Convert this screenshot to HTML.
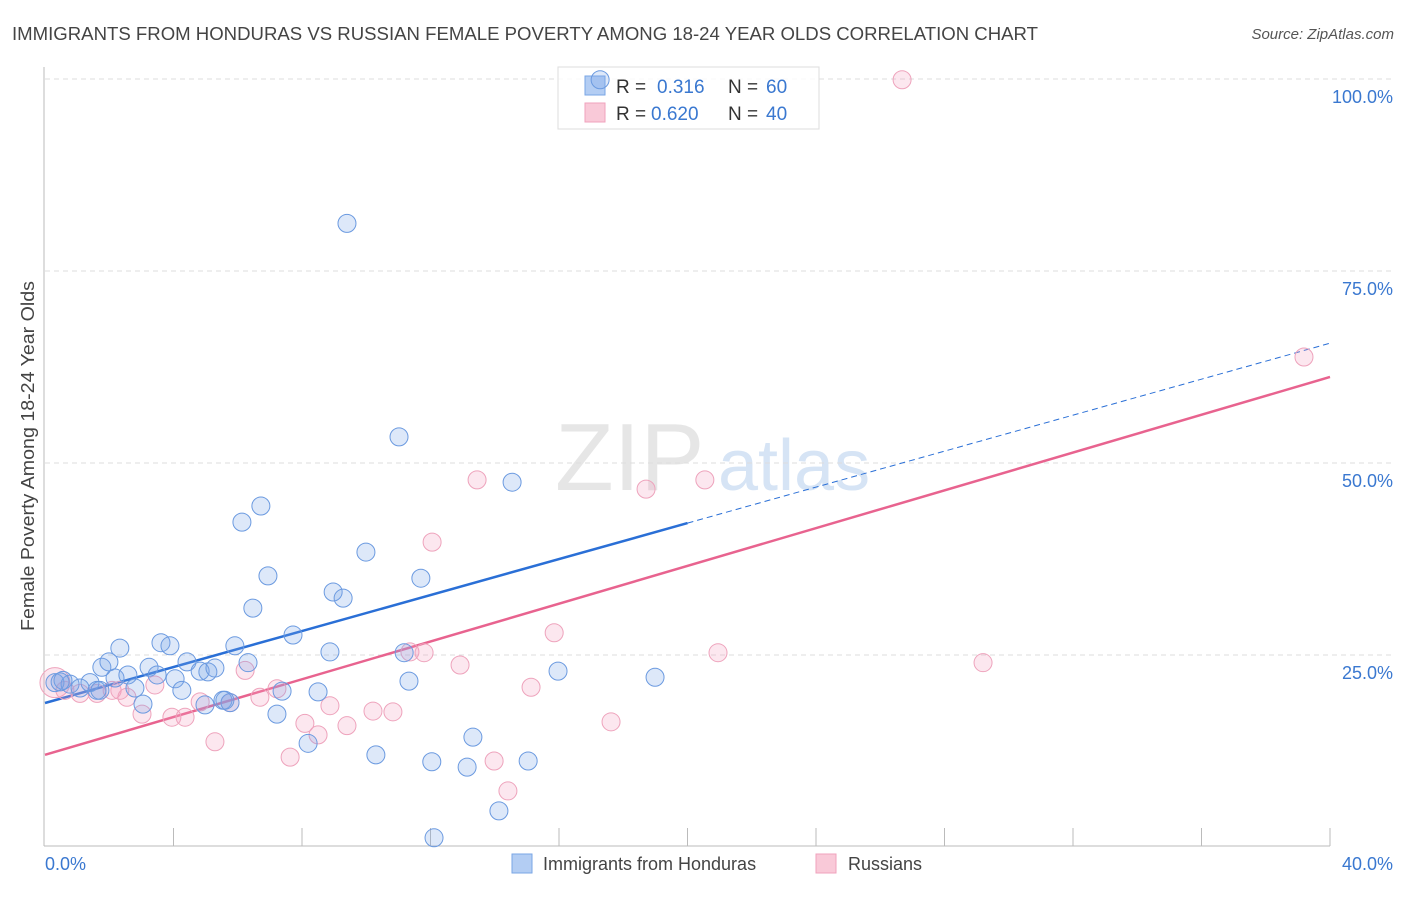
<!DOCTYPE html>
<html><head><meta charset="utf-8"><style>
body{margin:0;background:#fff;font-family:"Liberation Sans",sans-serif}
svg text{font-family:"Liberation Sans",sans-serif}
</style></head><body>
<svg id="chart" width="1406" height="892">
<text x="12" y="40" font-size="18" fill="#444" textLength="1026" lengthAdjust="spacingAndGlyphs">IMMIGRANTS FROM HONDURAS VS RUSSIAN FEMALE POVERTY AMONG 18-24 YEAR OLDS CORRELATION CHART</text>
<text x="1394" y="39" font-size="15" fill="#555" font-style="italic" text-anchor="end">Source: ZipAtlas.com</text>
<text transform="translate(34,456) rotate(-90)" font-size="18" fill="#444" text-anchor="middle" textLength="350" lengthAdjust="spacingAndGlyphs">Female Poverty Among 18-24 Year Olds</text>
<g><text x="555" y="490" font-size="96" font-family="Liberation Serif" fill="#e6e6e6">ZIP</text><text x="718" y="490" font-size="72" fill="#d6e4f5">atlas</text></g>
<g id="grid"></g><g id="axes"></g>
<g>
<rect x="558" y="67" width="261" height="62" fill="#fff" fill-opacity="0.85" stroke="#ddd"/>
<rect x="585" y="76" width="20" height="19" fill="#b3cdf3" stroke="#7aa6e6"/>
<rect x="585" y="103" width="20" height="19" fill="#f9c9d8" stroke="#f0a2bc"/>
<text x="616" y="93" font-size="19" fill="#333">R = <tspan x="657" fill="#3a78d0">0.316</tspan><tspan x="728" fill="#333">N = </tspan><tspan x="766" fill="#3a78d0">60</tspan></text>
<text x="616" y="120" font-size="19" fill="#333">R = <tspan x="651" fill="#3a78d0">0.620</tspan><tspan x="728" fill="#333">N = </tspan><tspan x="766" fill="#3a78d0">40</tspan></text>
</g>
<g id="lines"></g><g id="pts"></g>
<g>
<rect x="512" y="854" width="20" height="19" fill="#b3cdf3" stroke="#7aa6e6"/>
<text x="543" y="870" font-size="18" fill="#444">Immigrants from Honduras</text>
<rect x="816" y="854" width="20" height="19" fill="#f9c9d8" stroke="#f0a2bc"/>
<text x="848" y="870" font-size="18" fill="#444">Russians</text>
</g>
</svg>
<script>
const blueX=[0.31,0.56,0.78,1.09,1.40,1.62,1.77,1.99,2.18,2.33,2.58,2.80,3.05,3.24,3.49,3.61,3.89,4.05,4.26,4.42,4.83,4.98,5.07,5.29,5.54,5.76,5.91,6.13,6.32,6.47,6.72,6.94,7.22,7.38,7.72,8.19,8.50,8.87,8.97,9.28,9.40,9.99,10.30,11.02,11.18,11.33,11.70,12.04,12.11,13.14,13.32,14.13,14.54,15.04,15.97,17.28,18.99,0.47,1.71,5.60];
const blueY=[21.4,21.7,21.2,20.7,21.4,20.4,23.4,24.1,22.0,25.9,22.4,20.7,18.6,23.4,22.4,26.6,26.2,21.9,20.4,24.1,22.9,18.5,22.8,23.3,19.1,18.8,26.2,42.3,24.0,31.1,44.4,35.3,17.3,20.3,27.6,13.5,20.2,25.4,33.2,32.4,81.2,38.4,12.0,53.4,25.3,21.6,35.0,11.1,1.2,10.4,14.3,4.7,47.5,11.2,22.9,99.9,22.1,21.5,20.4,19.1];
const pinkX=[0.31,0.62,1.09,1.62,2.09,2.55,3.02,3.42,3.95,4.36,4.83,5.29,5.76,6.23,6.69,7.22,7.63,8.09,8.50,8.87,9.40,10.21,10.83,11.36,11.80,12.05,12.92,13.45,13.98,14.41,15.13,15.85,17.62,18.71,20.54,20.95,26.68,29.20,39.19,2.33];
const pinkY=[21.4,20.4,20.0,20.0,20.4,19.5,17.3,21.1,16.9,16.9,18.9,13.7,18.8,23.0,19.5,20.6,11.7,16.1,14.6,18.4,15.8,17.7,17.6,25.4,25.3,39.7,23.7,47.8,11.2,7.3,20.8,27.9,16.3,46.6,47.8,25.3,99.9,24.0,63.8,20.4];
const blueTrend=[18.75,65.6], pinkTrend=[12.0,61.2];
const yTicks=[25,50,75,100];
const xTickCount=10;
const NS="http://www.w3.org/2000/svg";
const X=v=>45+v/40*1285, Y=v=>847-v/100*768;
function mk(tag,attrs,parent){const e=document.createElementNS(NS,tag);for(const k in attrs)e.setAttribute(k,attrs[k]);document.getElementById(parent).appendChild(e);return e;}
yTicks.forEach(t=>{
 const l=mk('line',{x1:45,x2:1393,y1:Y(t),y2:Y(t),stroke:'#ddd','stroke-dasharray':'5,4'},'grid');
 
 
 const tx=mk('text',{x:1393,y:Y(t)+24,'font-size':18,fill:'#3a78d0','text-anchor':'end'},'grid');
 tx.textContent=t.toFixed(1)+'%';
 
 
});
let a=mk('line',{x1:44,x2:44,y1:67,y2:846,stroke:'#bbb'},'axes');


a=mk('line',{x1:44,x2:1330,y1:846,y2:846,stroke:'#bbb'},'axes');


for(let i=1;i<=xTickCount;i++){const x=X(i*4);const t=mk('line',{x1:x,x2:x,y1:828,y2:846,stroke:'#bbb'},'axes');
 
 }
let lb=mk('text',{x:45,y:870,'font-size':18,fill:'#3a78d0'},'axes');lb.textContent='0.0%';


lb=mk('text',{x:1393,y:870,'font-size':18,fill:'#3a78d0','text-anchor':'end'},'axes');lb.textContent='40.0%';


function drawPts(xs,ys,fill,stroke,name){xs.forEach((x,i)=>{const c=mk('circle',{cx:X(x),cy:Y(ys[i]),r:(name==='russians-point'&&i===0)?15:9,fill:fill,stroke:stroke,'stroke-width':1},'pts');
 
 });}
drawPts(pinkX,pinkY,'rgba(242,160,190,0.25)','#eea3bc','russians-point');
drawPts(blueX,blueY,'rgba(120,165,230,0.25)','#6b9ae0','honduras-point');
const bAt=x=>blueTrend[0]+(blueTrend[1]-blueTrend[0])*x/40;
let l=mk('line',{x1:X(0),y1:Y(bAt(0)),x2:X(20),y2:Y(bAt(20)),stroke:'#2a6fd6','stroke-width':2.5},'lines');


l=mk('line',{x1:X(20),y1:Y(bAt(20)),x2:X(40),y2:Y(bAt(40)),stroke:'#2a6fd6','stroke-width':1,'stroke-dasharray':'6,4'},'lines');


l=mk('line',{x1:X(0),y1:Y(pinkTrend[0]),x2:X(40),y2:Y(pinkTrend[1]),stroke:'#e8638f','stroke-width':2.5},'lines');


</script>
</body></html>
